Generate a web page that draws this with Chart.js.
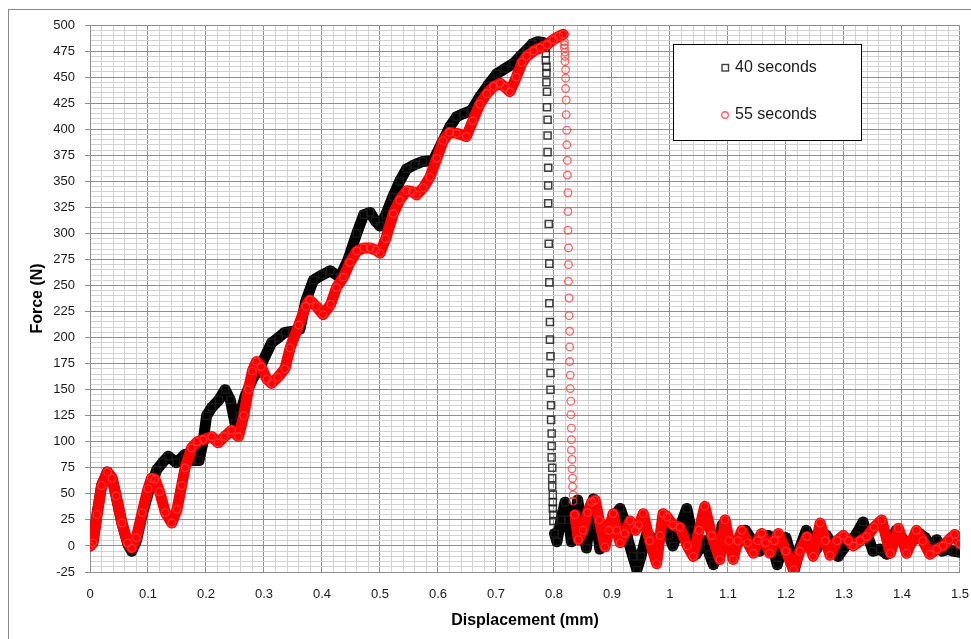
<!DOCTYPE html>
<html>
<head>
<meta charset="utf-8">
<script src="https://cdn.jsdelivr.net/npm/chart.js@4/dist/chart.umd.min.js"></script>
<style>
  html, body { margin: 0; padding: 0; background: #fff; }
  #wrap { width: 971px; height: 639px; position: relative; }
</style>
</head>
<body>
<div id="wrap"><canvas id="grafico"></canvas></div>
<script>
// ---------- datos ----------
const seriesNames = ['40 seconds', '55 seconds'];

// 40 s: subida, caida (marcadores sueltos) y ruido final
const disp40 = [
  0, 0.005, 0.012, 0.02, 0.03, 0.038, 0.045, 0.055, 0.065, 0.072, 0.08, 0.09, 0.1, 0.108, 0.115, 0.125,
  0.135, 0.149, 0.164, 0.175, 0.188, 0.195, 0.201, 0.21, 0.222, 0.233, 0.242, 0.25, 0.258, 0.267, 0.28,
  0.296, 0.313, 0.325, 0.336, 0.35, 0.362, 0.372, 0.385, 0.4, 0.414, 0.431, 0.445, 0.46, 0.472, 0.483,
  0.492, 0.5, 0.51, 0.522, 0.534, 0.546, 0.56, 0.574, 0.592, 0.605, 0.62, 0.632, 0.644, 0.658, 0.672,
  0.686, 0.701, 0.715, 0.73, 0.742, 0.753, 0.763, 0.772, 0.782,
  0.785, 0.786, 0.786, 0.787, 0.787, 0.787, 0.788, 0.788, 0.789, 0.789, 0.789, 0.79, 0.79, 0.79, 0.791,
  0.791, 0.792, 0.792, 0.792, 0.793, 0.793, 0.794, 0.794, 0.794, 0.795, 0.795, 0.796, 0.796, 0.796,
  0.797, 0.797, 0.797, 0.798, 0.798, 0.798, 0.799, 0.799,
  0.801, 0.805, 0.812, 0.819, 0.825, 0.83, 0.835, 0.841, 0.848, 0.856, 0.862, 0.868, 0.874, 0.879, 0.887,
  0.895, 0.905, 0.914, 0.921, 0.928, 0.936, 0.943, 0.95, 0.96, 0.968, 0.975, 0.983, 0.99, 0.998, 1.005,
  1.015, 1.029, 1.037, 1.045, 1.053, 1.06, 1.068, 1.075, 1.083, 1.09, 1.1, 1.11, 1.12, 1.13, 1.142, 1.155,
  1.163, 1.17, 1.178, 1.185, 1.192, 1.2, 1.208, 1.215, 1.225, 1.235, 1.243, 1.25, 1.26, 1.27, 1.28, 1.29,
  1.3, 1.31, 1.32, 1.333, 1.342, 1.35, 1.362, 1.374, 1.382, 1.39, 1.4, 1.41, 1.42, 1.43, 1.44, 1.45, 1.46,
  1.47, 1.48, 1.488, 1.5
];
const force40 = [
  0, 3, 30, 58, 71, 65, 48, 22, 2, -5, 5, 30, 50, 62, 73, 80,
  86, 80, 88, 82, 82, 100, 125, 133, 140, 150, 140, 118, 125, 143, 160,
  175, 195, 200, 205, 206, 208, 235, 255, 260, 264, 258, 275, 300, 318, 320,
  312, 307, 318, 335, 350, 362, 366, 369, 370, 385, 402, 412, 415, 418, 431,
  442, 453, 458, 463, 470, 476, 482, 484, 483,
  478, 473, 466, 460, 454, 445, 436, 421, 409, 394, 378, 363, 346, 329, 309,
  290, 271, 253, 233, 215, 198, 182, 166, 150, 135, 121, 108, 96, 85,
  75, 65, 57, 49, 42, 36, 30, 24,
  12, 4, 25, 42, 25, 4, 25, 44, 20, -2, 25, 45, 20, -3, 5,
  20, 30, 36, 25, 5, -10, -23, -10, 12, 8, 0, 8, 20, 10, 0,
  15, 36, 15, -8, 0, 5, -8, -18, 0, 20, 8, -5, 5, 15, 5, -5,
  3, 10, -3, -18, -5, 8, -8, -22, 0, 15, 5, -5, 3, 10, 0, -10,
  -2, 5, 10, 23, 8, -5, -3, -8, 5, 15, 8, 0, 6, 12, 8, 0, 6,
  -5, -3, -5, -6
];

// 55 s
const disp55 = [
  0, 0.005, 0.012, 0.02, 0.03, 0.038, 0.045, 0.055, 0.065, 0.072, 0.08, 0.09, 0.1, 0.106, 0.112, 0.12,
  0.13, 0.141, 0.15, 0.158, 0.164, 0.175, 0.185, 0.195, 0.21, 0.221, 0.232, 0.244, 0.256, 0.265, 0.273,
  0.28, 0.287, 0.295, 0.305, 0.313, 0.324, 0.336, 0.345, 0.36, 0.372, 0.379, 0.39, 0.402, 0.415, 0.425,
  0.437, 0.448, 0.46, 0.472, 0.483, 0.493, 0.5, 0.51, 0.523, 0.534, 0.546, 0.556, 0.563, 0.575, 0.586,
  0.598, 0.609, 0.62, 0.632, 0.649, 0.66, 0.672, 0.684, 0.696, 0.707, 0.716, 0.724, 0.735, 0.745, 0.753,
  0.765, 0.776, 0.788, 0.799, 0.808, 0.816,
  0.818, 0.818, 0.818, 0.819, 0.819, 0.819, 0.82, 0.82, 0.82, 0.821, 0.821, 0.822, 0.822, 0.823, 0.823,
  0.824, 0.824, 0.824, 0.825, 0.825, 0.825, 0.826, 0.826, 0.827, 0.827, 0.827, 0.828, 0.828, 0.829,
  0.829, 0.83, 0.83, 0.83, 0.831, 0.831, 0.832, 0.832, 0.833, 0.833,
  0.836, 0.842, 0.85, 0.858, 0.865, 0.871, 0.878, 0.888, 0.895, 0.902, 0.908, 0.914, 0.922, 0.931, 0.94,
  0.946, 0.954, 0.965, 0.977, 0.983, 0.988, 0.995, 1.005, 1.017, 1.03, 1.04, 1.05, 1.06, 1.072, 1.086,
  1.095, 1.102, 1.109, 1.117, 1.124, 1.134, 1.144, 1.151, 1.158, 1.165, 1.172, 1.18, 1.187, 1.2, 1.213,
  1.224, 1.236, 1.247, 1.259, 1.268, 1.276, 1.288, 1.299, 1.308, 1.316, 1.328, 1.339, 1.352, 1.365, 1.38,
  1.394, 1.408, 1.425, 1.436, 1.448, 1.46, 1.471, 1.481, 1.491, 1.5
];
const force55 = [
  0, 3, 30, 58, 71, 65, 48, 22, 3, -2, 8, 32, 55, 65, 64, 52,
  32, 22, 35, 58, 75, 94, 100, 102, 105, 99, 105, 111, 105, 125, 150,
  168, 177, 172, 160, 156, 162, 170, 190, 212, 230, 236, 230, 222, 232, 248,
  258, 272, 283, 286, 286, 284, 281, 295, 319, 332, 341, 340, 337, 344, 354,
  372, 389, 397, 396, 393, 408, 424, 434, 441, 444, 440, 436, 450, 464, 470,
  475, 478, 481, 486, 489, 491,
  484, 481, 478, 474, 470, 465, 457, 449, 439, 428, 414, 399, 385, 370, 356,
  339, 321, 303, 286, 270, 254, 238, 221, 206, 191, 177, 164, 151, 139,
  126, 113, 102, 92, 83, 74, 65, 57, 49, 43,
  30, 6, 15, 32, 42, 44, 25, -1, 15, 31, 15, 3, 12, 24, 15,
  20, 31, 5, -17, 10, 31, 28, 20, 18, 0, -10, 15, 38, 10, -13,
  25, 5, -13, 5, 15, 3, -7, 5, 12, 3, -7, 5, 12, -5, -23,
  -5, 9, -10, 22, 5, -9, 5, 10, 5, 0, 5, 9, 18, 25, -7,
  17, -7, 15, 5, -8, -3, 0, 6, 11, 2
];

// etiquetas de ejes
const dispTickLabels = ['0', '0.1', '0.2', '0.3', '0.4', '0.5', '0.6', '0.7', '0.8', '0.9',
                        '1', '1.1', '1.2', '1.3', '1.4', '1.5'];
const forceTickLabels = ['-25', '0', '25', '50', '75', '100', '125', '150', '175', '200', '225',
                         '250', '275', '300', '325', '350', '375', '400', '425', '450', '475', '500'];

// ---------- estilos ----------
const GRID_MAJOR = '#8f8f8f';
const GRID_MINOR = '#d2d2d2';
const FONT = '"Liberation Sans", Arial, sans-serif';

function puntos(xs, ys) { return xs.map((x, i) => ({ x: x, y: ys[i] })); }

// en la caida los puntos no se unen (solo marcadores sueltos)
function tramoCaida(ctx) {
  return Math.abs(ctx.p1.parsed.x - ctx.p0.parsed.x) < 0.0035 ? 'rgba(0,0,0,0)' : undefined;
}

// fondo + marco exterior
const marco = {
  id: 'marco',
  beforeDraw(chart) {
    const c = chart.ctx;
    c.save();
    c.fillStyle = '#fff';
    c.fillRect(0, 0, chart.width, chart.height);
    c.strokeStyle = '#8a8a8a';
    c.lineWidth = 1;
    c.strokeRect(8.5, 9.5, chart.width + 20, chart.height + 20);
    c.restore();
  }
};

// leyenda en recuadro dentro del area
const leyenda = {
  id: 'leyenda',
  afterDatasetsDraw(chart) {
    const c = chart.ctx;
    c.save();
    c.fillStyle = '#fff';
    c.fillRect(673.5, 44.5, 188, 96);
    c.strokeStyle = '#000';
    c.lineWidth = 1;
    c.strokeRect(673.5, 44.5, 188, 96);
    chart.data.datasets.forEach((ds, i) => {
      const y = 68 + i * 47;
      c.strokeStyle = ds.pointBorderColor;
      c.lineWidth = 1.4;
      if (ds.pointStyle === 'rect') {
        c.strokeRect(722, y - 3.5, 6.5, 6.5);
      } else {
        c.beginPath();
        c.arc(725, y, 3.3, 0, Math.PI * 2);
        c.stroke();
      }
      c.fillStyle = '#1a1a1a';
      c.font = '16px ' + FONT;
      c.textBaseline = 'middle';
      c.fillText(ds.label, 735, y);
    });
    c.restore();
  }
};

const ctx = document.getElementById('grafico');
new Chart(ctx, {
  type: 'scatter',
  data: {
    datasets: [{
      label: seriesNames[0],
      data: puntos(disp40, force40),
      showLine: true,
      borderColor: '#000',
      borderWidth: 11,
      borderJoinStyle: 'round',
      borderCapStyle: 'round',
      tension: 0,
      segment: { borderColor: tramoCaida },
      pointStyle: 'rect',
      pointRadius: 5,
      pointBorderWidth: 1.5,
      pointBorderColor: 'rgba(30,30,30,0.85)',
      pointBackgroundColor: 'rgba(0,0,0,0)',
      order: 1
    }, {
      label: seriesNames[1],
      data: puntos(disp55, force55),
      showLine: true,
      borderColor: '#ff0000',
      borderWidth: 11,
      borderJoinStyle: 'round',
      borderCapStyle: 'round',
      tension: 0,
      segment: { borderColor: tramoCaida },
      pointStyle: 'circle',
      pointRadius: 3.8,
      pointBorderWidth: 1.3,
      pointBorderColor: 'rgba(255,60,60,0.8)',
      pointBackgroundColor: 'rgba(0,0,0,0)',
      order: 0
    }]
  },
  options: {
    responsive: true,
    maintainAspectRatio: false,
    animation: false,
    events: [],
    layout: { padding: { top: 25, right: 11, left: 0, bottom: 0 } },
    plugins: { legend: { display: false }, tooltip: { enabled: false } },
    scales: {
      x: {
        type: 'linear',
        min: 0, max: 1.5,
        border: { color: GRID_MAJOR },
        grid: {
          color: c => c.index % 5 === 0 ? GRID_MAJOR : GRID_MINOR,
          tickColor: 'rgba(0,0,0,0)',
          tickLength: 13
        },
        ticks: {
          stepSize: 0.02,
          autoSkip: false,
          maxRotation: 0,
          padding: 2,
          color: '#1a1a1a',
          font: { family: FONT, size: 13 },
          callback: (v, i) => i % 5 === 0 ? dispTickLabels[i / 5] : ''
        },
        title: {
          display: true,
          text: 'Displacement (mm)',
          color: '#000',
          font: { family: FONT, size: 16, weight: 'bold' },
          padding: { top: 0, bottom: 9 }
        },
        afterFit: s => { s.height = 67; }
      },
      y: {
        min: -25, max: 500,
        border: { color: GRID_MAJOR },
        grid: {
          color: c => c.index % 5 === 0 ? GRID_MAJOR : GRID_MINOR,
          tickColor: c => c.index % 5 === 0 ? GRID_MAJOR : 'rgba(0,0,0,0)',
          tickLength: 5
        },
        ticks: {
          stepSize: 5,
          autoSkip: false,
          padding: 10,
          color: '#1a1a1a',
          font: { family: FONT, size: 13 },
          callback: (v, i) => i % 5 === 0 ? forceTickLabels[i / 5] : ''
        },
        title: {
          display: true,
          text: 'Force (N)',
          color: '#000',
          font: { family: FONT, size: 16, weight: 'bold' },
          padding: { top: 28, bottom: 0 }
        },
        afterFit: s => { s.width = 90; }
      }
    }
  },
  plugins: [marco, leyenda]
});
</script>
</body>
</html>
